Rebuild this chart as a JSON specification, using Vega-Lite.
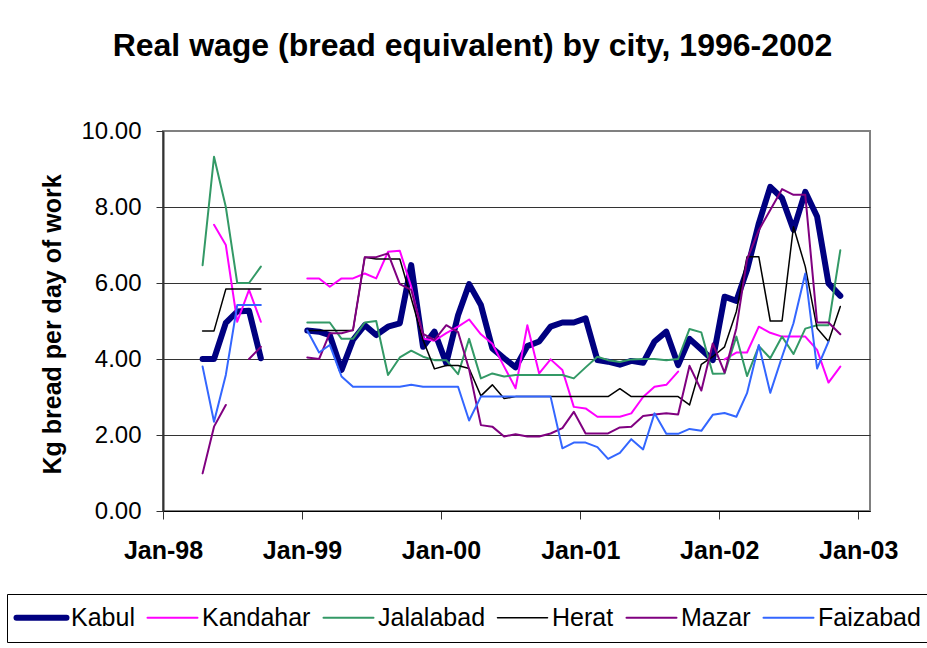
{
  "$schema": "https://vega.github.io/schema/vega-lite/v6.json",
  "width": 707,
  "height": 380,
  "autosize": "none",
  "padding": {"left": 163, "top": 131, "right": 57, "bottom": 137},
  "background": "white",
  "config": {
    "font": "Liberation Sans",
    "view": {"stroke": "#808080", "strokeWidth": 2}
  },
  "title": {
    "text": "Real wage (bread equivalent) by city, 1996-2002",
    "font": "Liberation Sans",
    "fontSize": 32,
    "fontWeight": "bold",
    "color": "#000000",
    "anchor": "middle",
    "dx": -44,
    "offset": 56
  },
  "data": {
    "values": [
      {"date": "1998-04-15", "Kabul": 4.00, "Kandahar": null, "Jalalabad": 6.47, "Herat": 4.74, "Mazar": 0.99, "Faizabad": 3.80},
      {"date": "1998-05-15", "Kabul": 4.00, "Kandahar": 7.53, "Jalalabad": 9.32, "Herat": 4.74, "Mazar": 2.22, "Faizabad": 2.35},
      {"date": "1998-06-15", "Kabul": 4.95, "Kandahar": 7.00, "Jalalabad": 8.00, "Herat": 5.84, "Mazar": 2.79, "Faizabad": 3.58},
      {"date": "1998-07-15", "Kabul": 5.25, "Kandahar": 4.98, "Jalalabad": 6.00, "Herat": 5.84, "Mazar": null, "Faizabad": 5.42},
      {"date": "1998-08-15", "Kabul": 5.27, "Kandahar": 5.82, "Jalalabad": 6.00, "Herat": 5.84, "Mazar": 4.00, "Faizabad": 5.42},
      {"date": "1998-09-15", "Kabul": 4.02, "Kandahar": 4.98, "Jalalabad": 6.43, "Herat": 5.84, "Mazar": 4.32, "Faizabad": 5.42},
      {"date": "1998-10-15", "Kabul": null, "Kandahar": null, "Jalalabad": null, "Herat": null, "Mazar": null, "Faizabad": null},
      {"date": "1998-11-15", "Kabul": null, "Kandahar": null, "Jalalabad": null, "Herat": null, "Mazar": null, "Faizabad": null},
      {"date": "1998-12-15", "Kabul": null, "Kandahar": null, "Jalalabad": null, "Herat": null, "Mazar": null, "Faizabad": null},
      {"date": "1999-01-15", "Kabul": 4.75, "Kandahar": 6.12, "Jalalabad": 4.96, "Herat": 4.75, "Mazar": 4.04, "Faizabad": 4.75},
      {"date": "1999-02-15", "Kabul": 4.72, "Kandahar": 6.12, "Jalalabad": 4.96, "Herat": 4.75, "Mazar": 4.00, "Faizabad": 4.17},
      {"date": "1999-03-15", "Kabul": 4.63, "Kandahar": 5.90, "Jalalabad": 4.96, "Herat": 4.75, "Mazar": 4.68, "Faizabad": 4.37},
      {"date": "1999-04-15", "Kabul": 3.71, "Kandahar": 6.12, "Jalalabad": 4.53, "Herat": 4.75, "Mazar": 4.68, "Faizabad": 3.54},
      {"date": "1999-05-15", "Kabul": 4.50, "Kandahar": 6.12, "Jalalabad": 4.53, "Herat": 4.75, "Mazar": 4.76, "Faizabad": 3.27},
      {"date": "1999-06-15", "Kabul": 4.89, "Kandahar": 6.25, "Jalalabad": 4.96, "Herat": 6.68, "Mazar": 6.68, "Faizabad": 3.27},
      {"date": "1999-07-15", "Kabul": 4.63, "Kandahar": 6.12, "Jalalabad": 5.00, "Herat": 6.63, "Mazar": 6.68, "Faizabad": 3.27},
      {"date": "1999-08-15", "Kabul": 4.85, "Kandahar": 6.82, "Jalalabad": 3.58, "Herat": 6.63, "Mazar": 6.78, "Faizabad": 3.27},
      {"date": "1999-09-15", "Kabul": 4.94, "Kandahar": 6.85, "Jalalabad": 4.04, "Herat": 6.63, "Mazar": 5.97, "Faizabad": 3.27},
      {"date": "1999-10-15", "Kabul": 6.47, "Kandahar": 5.90, "Jalalabad": 4.22, "Herat": 5.60, "Mazar": 5.82, "Faizabad": 3.32},
      {"date": "1999-11-15", "Kabul": 4.32, "Kandahar": 4.54, "Jalalabad": 4.06, "Herat": 4.50, "Mazar": 4.66, "Faizabad": 3.27},
      {"date": "1999-12-15", "Kabul": 4.72, "Kandahar": 4.48, "Jalalabad": 3.97, "Herat": 3.74, "Mazar": 4.50, "Faizabad": 3.27},
      {"date": "2000-01-15", "Kabul": 3.89, "Kandahar": 4.68, "Jalalabad": 3.97, "Herat": 3.83, "Mazar": 4.89, "Faizabad": 3.27},
      {"date": "2000-02-15", "Kabul": 5.15, "Kandahar": 4.85, "Jalalabad": 3.60, "Herat": 3.83, "Mazar": 4.71, "Faizabad": 3.27},
      {"date": "2000-03-15", "Kabul": 5.97, "Kandahar": 5.04, "Jalalabad": 4.53, "Herat": 3.75, "Mazar": 3.73, "Faizabad": 2.38},
      {"date": "2000-04-15", "Kabul": 5.42, "Kandahar": 4.65, "Jalalabad": 3.49, "Herat": 3.03, "Mazar": 2.26, "Faizabad": 3.01},
      {"date": "2000-05-15", "Kabul": 4.28, "Kandahar": 4.40, "Jalalabad": 3.62, "Herat": 3.32, "Mazar": 2.22, "Faizabad": 3.01},
      {"date": "2000-06-15", "Kabul": 4.02, "Kandahar": 3.80, "Jalalabad": 3.54, "Herat": 2.96, "Mazar": 1.96, "Faizabad": 3.01},
      {"date": "2000-07-15", "Kabul": 3.78, "Kandahar": 3.23, "Jalalabad": 3.58, "Herat": 3.01, "Mazar": 2.02, "Faizabad": 3.01},
      {"date": "2000-08-15", "Kabul": 4.34, "Kandahar": 4.89, "Jalalabad": 3.58, "Herat": 3.01, "Mazar": 1.96, "Faizabad": 3.01},
      {"date": "2000-09-15", "Kabul": 4.46, "Kandahar": 3.62, "Jalalabad": 3.58, "Herat": 3.01, "Mazar": 1.96, "Faizabad": 3.01},
      {"date": "2000-10-15", "Kabul": 4.85, "Kandahar": 3.99, "Jalalabad": 3.58, "Herat": 3.01, "Mazar": 2.04, "Faizabad": 3.01},
      {"date": "2000-11-15", "Kabul": 4.96, "Kandahar": 3.71, "Jalalabad": 3.58, "Herat": 3.01, "Mazar": 2.18, "Faizabad": 1.65},
      {"date": "2000-12-15", "Kabul": 4.96, "Kandahar": 2.74, "Jalalabad": 3.49, "Herat": 3.01, "Mazar": 2.61, "Faizabad": 1.80},
      {"date": "2001-01-15", "Kabul": 5.07, "Kandahar": 2.70, "Jalalabad": 3.78, "Herat": 3.01, "Mazar": 2.04, "Faizabad": 1.80},
      {"date": "2001-02-15", "Kabul": 3.97, "Kandahar": 2.48, "Jalalabad": 4.06, "Herat": 3.01, "Mazar": 2.04, "Faizabad": 1.68},
      {"date": "2001-03-15", "Kabul": 3.93, "Kandahar": 2.48, "Jalalabad": 3.97, "Herat": 3.01, "Mazar": 2.04, "Faizabad": 1.37},
      {"date": "2001-04-15", "Kabul": 3.85, "Kandahar": 2.48, "Jalalabad": 3.92, "Herat": 3.22, "Mazar": 2.20, "Faizabad": 1.53},
      {"date": "2001-05-15", "Kabul": 3.95, "Kandahar": 2.57, "Jalalabad": 3.99, "Herat": 3.01, "Mazar": 2.22, "Faizabad": 1.89},
      {"date": "2001-06-15", "Kabul": 3.90, "Kandahar": 3.00, "Jalalabad": 4.00, "Herat": 3.01, "Mazar": 2.50, "Faizabad": 1.62},
      {"date": "2001-07-15", "Kabul": 4.46, "Kandahar": 3.27, "Jalalabad": 4.00, "Herat": 3.01, "Mazar": 2.54, "Faizabad": 2.57},
      {"date": "2001-08-15", "Kabul": 4.72, "Kandahar": 3.32, "Jalalabad": 3.97, "Herat": 3.01, "Mazar": 2.57, "Faizabad": 2.03},
      {"date": "2001-09-15", "Kabul": 3.84, "Kandahar": 3.67, "Jalalabad": 4.00, "Herat": 3.01, "Mazar": 2.54, "Faizabad": 2.03},
      {"date": "2001-10-15", "Kabul": 4.53, "Kandahar": null, "Jalalabad": 4.79, "Herat": 2.79, "Mazar": 3.82, "Faizabad": 2.16},
      {"date": "2001-11-15", "Kabul": 4.25, "Kandahar": null, "Jalalabad": 4.70, "Herat": 3.86, "Mazar": 3.17, "Faizabad": 2.11},
      {"date": "2001-12-15", "Kabul": 3.97, "Kandahar": null, "Jalalabad": 3.61, "Herat": 4.06, "Mazar": 4.41, "Faizabad": 2.53},
      {"date": "2002-01-15", "Kabul": 5.64, "Kandahar": 3.99, "Jalalabad": 3.62, "Herat": 4.32, "Mazar": 3.64, "Faizabad": 2.58},
      {"date": "2002-02-15", "Kabul": 5.53, "Kandahar": 4.17, "Jalalabad": 4.59, "Herat": 5.25, "Mazar": 4.81, "Faizabad": 2.48},
      {"date": "2002-03-15", "Kabul": 6.34, "Kandahar": 4.17, "Jalalabad": 3.55, "Herat": 6.69, "Mazar": 6.62, "Faizabad": 3.10},
      {"date": "2002-04-15", "Kabul": 7.57, "Kandahar": 4.85, "Jalalabad": 4.34, "Herat": 6.69, "Mazar": 7.39, "Faizabad": 4.37},
      {"date": "2002-05-15", "Kabul": 8.53, "Kandahar": 4.69, "Jalalabad": 4.02, "Herat": 5.00, "Mazar": 7.92, "Faizabad": 3.11},
      {"date": "2002-06-15", "Kabul": 8.23, "Kandahar": 4.59, "Jalalabad": 4.59, "Herat": 5.00, "Mazar": 8.47, "Faizabad": 4.06},
      {"date": "2002-07-15", "Kabul": 7.40, "Kandahar": 4.59, "Jalalabad": 4.13, "Herat": 7.48, "Mazar": 8.32, "Faizabad": 4.94},
      {"date": "2002-08-15", "Kabul": 8.40, "Kandahar": 4.59, "Jalalabad": 4.80, "Herat": 6.43, "Mazar": 8.32, "Faizabad": 6.25},
      {"date": "2002-09-15", "Kabul": 7.75, "Kandahar": 4.24, "Jalalabad": 4.89, "Herat": 4.81, "Mazar": 4.96, "Faizabad": 3.75},
      {"date": "2002-10-15", "Kabul": 5.99, "Kandahar": 3.38, "Jalalabad": 4.89, "Herat": 4.46, "Mazar": 4.96, "Faizabad": 4.46},
      {"date": "2002-11-15", "Kabul": 5.66, "Kandahar": 3.80, "Jalalabad": 6.86, "Herat": 5.38, "Mazar": 4.65, "Faizabad": null}
    ]
  },
  "transform": [
    {"fold": ["Kabul", "Kandahar", "Jalalabad", "Herat", "Mazar", "Faizabad"], "as": ["city", "wage"]}
  ],
  "mark": {"type": "line", "invalid": "break-paths-filter-domains", "strokeJoin": "round", "strokeCap": "round"},
  "encoding": {
    "x": {
      "field": "date",
      "type": "temporal",
      "scale": {
        "type": "utc",
        "domain": [
          {"year": 1998, "month": 1, "date": 1, "utc": true},
          {"year": 2003, "month": 2, "date": 1, "utc": true}
        ]
      },
      "axis": {
        "title": null,
        "tickCount": {"interval": "year", "step": 1},
        "format": "%b-%y",
        "labelFont": "Liberation Sans",
        "labelFontSize": 25,
        "labelFontWeight": "bold",
        "labelColor": "#000000",
        "labelPadding": 19,
        "labelDx": 6,
        "labelFlush": false,
        "labelOverlap": false,
        "labelBound": false,
        "tickSize": 8,
        "tickColor": "#333333",
        "domainColor": "#000000",
        "domainWidth": 1,
        "grid": false
      }
    },
    "y": {
      "field": "wage",
      "type": "quantitative",
      "scale": {"domain": [0, 10], "nice": false, "zero": true},
      "axis": {
        "values": [0, 2, 4, 6, 8, 10],
        "format": ".2f",
        "labelFont": "Liberation Sans",
        "labelFontSize": 24,
        "labelColor": "#000000",
        "labelPadding": 15,
        "tickSize": 7,
        "tickColor": "#333333",
        "domainColor": "#333333",
        "domainWidth": 2,
        "grid": true,
        "gridColor": {"condition": {"test": "datum.value === 10", "value": "#808080"}, "value": "#333333"},
        "gridWidth": 1,
        "title": "Kg bread per day of work",
        "titleFont": "Liberation Sans",
        "titleFontSize": 25,
        "titleFontWeight": "bold",
        "titleColor": "#000000",
        "titleX": -111,
        "titleY": 193,
        "titleAngle": 270,
        "titleAlign": "center",
        "titleBaseline": "middle"
      }
    },
    "color": {
      "field": "city",
      "type": "nominal",
      "scale": {
        "domain": ["Kabul", "Kandahar", "Jalalabad", "Herat", "Mazar", "Faizabad"],
        "range": ["#000080", "#FF00FF", "#339966", "#000000", "#800080", "#3366FF"]
      },
      "legend": {
        "orient": "none",
        "legendX": -156,
        "legendY": 463,
        "direction": "horizontal",
        "title": null,
        "symbolType": "stroke",
        "symbolSize": 2500,
        "symbolStrokeWidth": 2,
        "symbolOffset": 11,
        "labelFont": "Liberation Sans",
        "labelFontSize": 25,
        "labelColor": "#000000",
        "labelOffset": 17,
        "labelLimit": 300,
        "columnPadding": 8,
        "padding": 11,
        "strokeColor": "#000000",
        "fillColor": "#ffffff",
        "encode": {
          "symbols": {
            "update": {
              "strokeWidth": {"signal": "datum.value === 'Kabul' ? 6 : datum.value === 'Herat' ? 1.5 : 2"},
              "strokeCap": {"value": "round"}
            }
          }
        }
      }
    },
    "strokeWidth": {
      "condition": [
        {"test": "datum.city === 'Kabul'", "value": 6},
        {"test": "datum.city === 'Herat'", "value": 1.5}
      ],
      "value": 2
    }
  }
}
